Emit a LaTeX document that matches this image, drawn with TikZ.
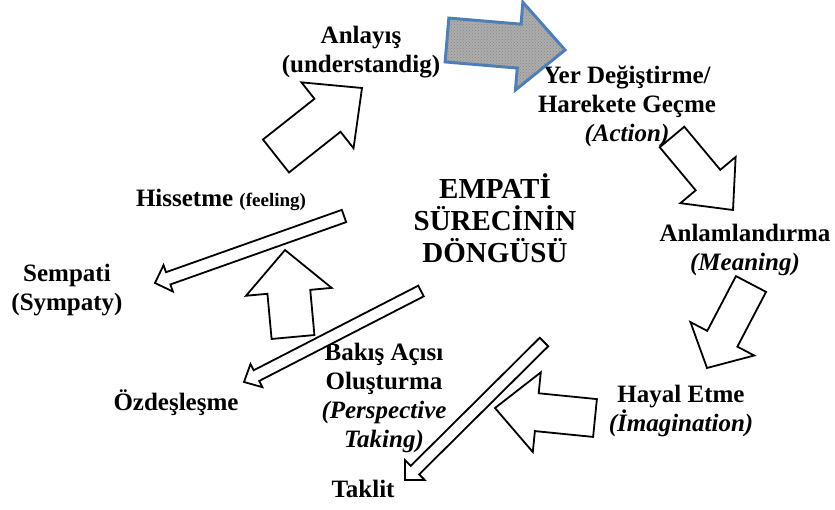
\documentclass[tikz,border=0pt]{standalone}
\usepackage{fontspec}
\setmainfont{Liberation Serif}
\usetikzlibrary{calc,patterns}
\definecolor{arrowblue}{RGB}{74,126,187}

% block arrow: [style]{tail}{tip}{shaft half width}{head half width}{head length}
\newcommand{\blockarrow}[6][]{%
  \coordinate (ba-h) at ($(#3)!#6!(#2)$);
  \draw[#1] ($(#2)!#4!90:(#3)$) -- ($(ba-h)!#4!90:(#3)$) -- ($(ba-h)!#5!90:(#3)$) -- (#3)
    -- ($(ba-h)!#5!-90:(#3)$) -- ($(ba-h)!#4!-90:(#3)$) -- ($(#2)!#4!-90:(#3)$) -- cycle;
}

\begin{document}
\begin{tikzpicture}[x=1pt,y=1pt,yscale=-1,xscale=1,
  lbl/.style={align=center,inner sep=0pt,font=\bfseries\fontsize{25}{29}\selectfont},
  title/.style={align=center,inner sep=0pt,font=\bfseries\fontsize{29}{32}\selectfont},
  blk/.style={draw=black,line width=1.8pt,fill=white},
  grayblk/.style={draw=arrowblue,line width=3pt,fill=black!32,
    postaction={pattern=crosshatch dots,pattern color=black!48}}]
\useasboundingbox (0,0) rectangle (835,509);

%labels
\node [lbl] (anlayis) at (361,52) {Anlayış\\(understandig)};
\node [lbl] (action) at (627,106) {Yer Değiştirme/\\Harekete Geçme\\\textit{(Action)}};
\node [lbl] (meaning) at (745,250) {Anlamlandırma\\\textit{(Meaning)}};
\node [lbl] (imagination) at (681,411) {Hayal Etme\\\textit{(İmagination)}};
\node [lbl] (perspective) at (384,398) {Bakış Açısı\\Oluşturma\\\textit{(Perspective}\\\textit{Taking)}};
\node [lbl] (taklit) at (363,489) {Taklit};
\node [lbl] (ozdes) at (176,403) {Özdeşleşme};
\node [lbl] (sempati) at (67,290) {Sempati\\(Sympaty)};
\node [lbl] (hissetme) at (221,200) {Hissetme {\fontsize{19}{22}\selectfont(feeling)}};
\node [title] (cycle) at (495,218) {EMPATİ\\SÜRECİNİN\\DÖNGÜSÜ};

%arrow ends
\coordinate (a1s) at (447,40);  \coordinate (a1e) at (565,50);
\coordinate (a2s) at (276,156); \coordinate (a2e) at (362,88);
\coordinate (a3s) at (672,137); \coordinate (a3e) at (733,210);
\coordinate (a4s) at (751,284); \coordinate (a4e) at (707,368);
\coordinate (a5s) at (595,418); \coordinate (a5e) at (495,408);
\coordinate (a6s) at (544,342); \coordinate (a6e) at (405,480);
\coordinate (a7s) at (344,216); \coordinate (a7e) at (155,283);
\coordinate (a8s) at (421,291); \coordinate (a8e) at (244,382);
\coordinate (a9s) at (293,337); \coordinate (a9e) at (285,250);

\blockarrow[grayblk]{a1s}{a1e}{22pt}{44pt}{46pt}
\blockarrow[blk]{a2s}{a2e}{21pt}{42pt}{44pt}
\blockarrow[blk]{a3s}{a3e}{16pt}{36pt}{39pt}
\blockarrow[blk]{a4s}{a4e}{17pt}{36pt}{33pt}
\blockarrow[blk]{a5s}{a5e}{19pt}{40pt}{42pt}
\blockarrow[blk]{a6s}{a6e}{6pt}{14pt}{14pt}
\blockarrow[blk]{a7s}{a7e}{6.5pt}{14pt}{14pt}
\blockarrow[blk]{a8s}{a8e}{6pt}{13pt}{14pt}
\blockarrow[blk]{a9s}{a9e}{21.5pt}{43pt}{42pt}
\end{tikzpicture}
\end{document}
